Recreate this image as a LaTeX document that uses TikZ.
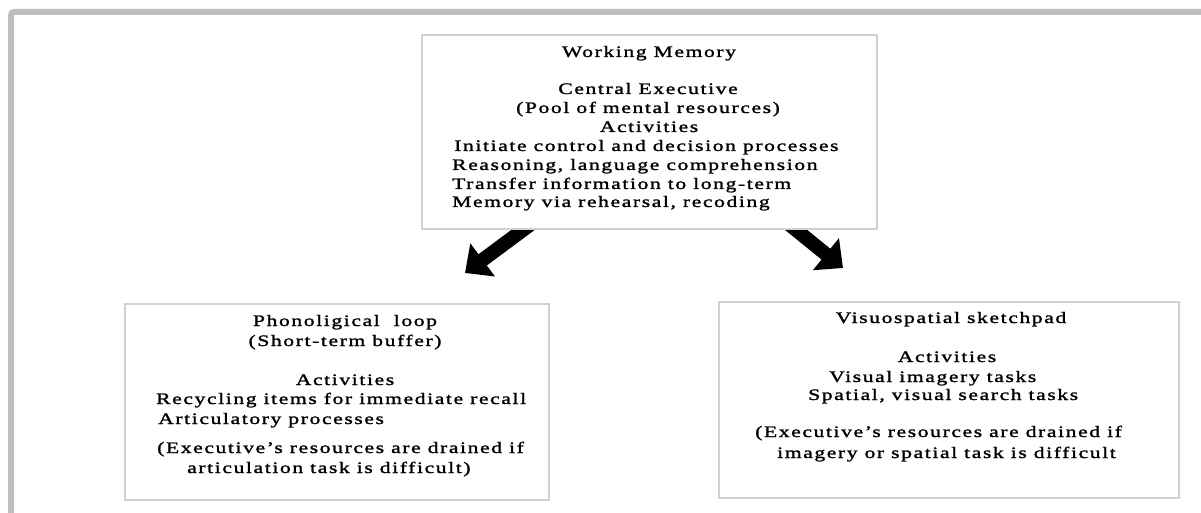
\documentclass[tikz,border=0pt]{standalone}
\usepackage{fontspec}
\setmainfont{Liberation Serif}[FakeStretch=1.35,LetterSpace=10,FakeBold=1.5]
\usepackage{tikz}
\usetikzlibrary{arrows.meta}
\usetikzlibrary{backgrounds}

\begin{document}
\begin{tikzpicture}[x=1pt, y=-1pt,
        frame/.style={draw=black!25, line width=6pt, rounded corners=3pt},
        membox/.style={rectangle, draw=black!18, fill=white, line width=1.5pt},
        txt/.style={inner sep=0pt, font=\fontsize{16}{18}\selectfont},
        bigarrow/.style={black, line width=14pt, -{Triangle[length=22pt, width=40pt]}}
      ]
        \useasboundingbox (0,0) rectangle (1201,513);
        \draw[frame] (11,513) -- (11,12) -- (1201,12);

        % the three boxes
        \node[membox, minimum width=455pt, minimum height=194pt]  (wm)  at (649.5,132)  {};
        \node[membox, minimum width=424pt, minimum height=196pt]  (pl)  at (337,402)    {};
        \node[membox, minimum width=460pt, minimum height=196pt]  (vs)  at (949,400)    {};

        % working memory
        \foreach \a/\x/\y/\t [count=\i] in {
            base/649/57/{Working Memory},
            base/648/94/{Central Executive},
            base/648/113/{(Pool of mental resources)},
            base/649/132/{Activities},
            base west/454/151/{Initiate control and decision processes},
            base west/452/170/{Reasoning, language comprehension},
            base west/452/189/{Transfer information to long-term},
            base west/452/207/{Memory via rehearsal, recoding}}
          \node[txt, anchor=\a] (wmtext\i) at (\x,\y) {\t};

        % phonological loop
        \foreach \a/\x/\y/\t [count=\i] in {
            base/345/326/{Phonoligical~ loop},
            base/345/346/{(Short-term buffer)},
            base/345/385/{Activities},
            base west/156/404/{Recycling items for immediate recall},
            base west/158/424/{Articulatory processes},
            base west/157/453/{(Executive’s resources are drained if},
            base west/187/473/{articulation task is difficult)}}
          \node[txt, anchor=\a] (pltext\i) at (\x,\y) {\t};

        % sketchpad
        \foreach \a/\x/\y/\t [count=\i] in {
            base/951/323/{Visuospatial sketchpad},
            base/947/362/{Activities},
            base west/829/382/{Visual imagery tasks},
            base west/808/400/{Spatial, visual search tasks},
            base west/755/437/{(Executive’s resources are drained if},
            base west/777/458/{imagery or spatial task is difficult}}
          \node[txt, anchor=\a] (vstext\i) at (\x,\y) {\t};

        \coordinate (plend) at (465,273);
        \coordinate (vsend) at (843,268);

        \begin{scope}[on background layer]
          \draw[bigarrow] ([xshift=-115.5pt, yshift=8pt]wm.south) -- (plend);
          \draw[bigarrow] ([xshift=136.5pt, yshift=8pt]wm.south) -- (vsend);
        \end{scope}
      \end{tikzpicture}
\end{document}
